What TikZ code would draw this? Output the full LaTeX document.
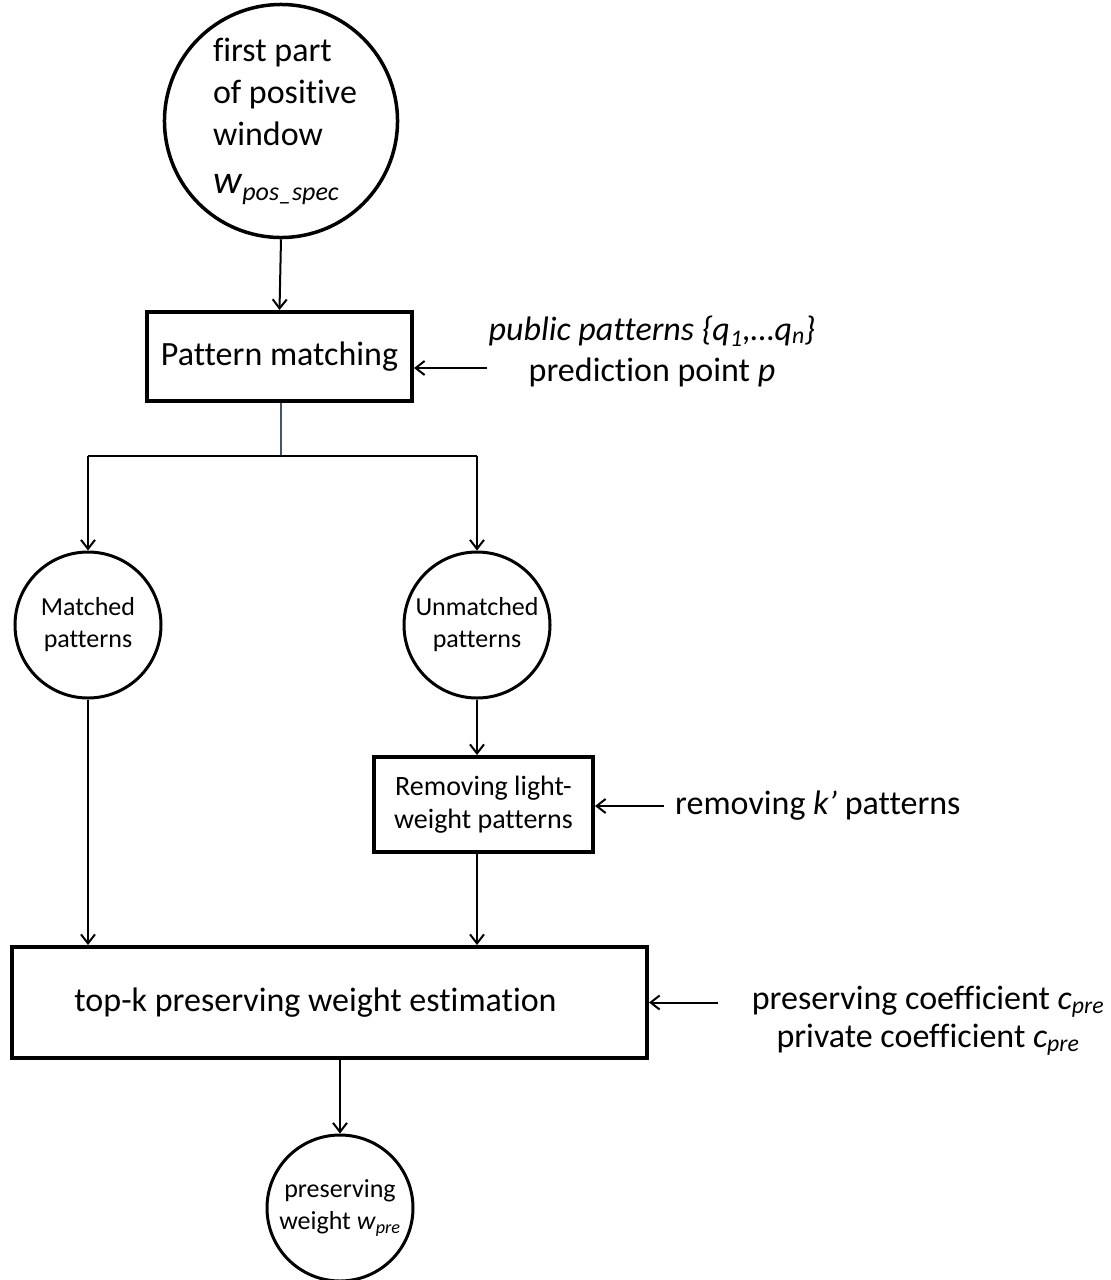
\documentclass[tikz,border=0pt]{standalone}
\usepackage{fontspec}
\setmainfont{Carlito}[Ligatures=NoCommon]
\usetikzlibrary{arrows.meta}
\definecolor{slate}{HTML}{44546A}
\newcommand{\ind}{\hspace*{14pt}}
\begin{document}
\begin{tikzpicture}[x=1pt,y=-1pt,
  every node/.style={font=\fontsize{34}{41}\selectfont, inner sep=0pt},
  circ/.style={draw, circle, line width=3.5pt},
  procbox/.style={draw, rectangle, line width=4pt},
  smalltext/.style={font=\fontsize{26}{32}\selectfont, align=center},
  conn/.style={line width=2pt, -{Straight Barb[length=9pt,width=14pt]}},
  plainline/.style={line width=2pt},
]
\useasboundingbox (0,0) rectangle (1111,1280);

% source window
\node[circ, minimum size=232, text width=164, align=flush left,
      font=\fontsize{34}{42}\selectfont] (src) at (281,121)
  {\ind first part\\\ind of positive\\\ind window\\[6pt]\ind{\fontsize{40}{40}\selectfont\textit{w}}\raisebox{-7pt}{\fontsize{26}{26}\selectfont\textit{pos\_spec}}};

% pattern matching stage
\node[procbox, minimum width=265, minimum height=89] (pm) at (279.5,356.5) {Pattern matching};
\node[align=center] (pin) at (652,351)
  {\textit{public patterns \{q\textsubscript{1},…q\textsubscript{n}\}}\\prediction point \textit{p}};
\coordinate (pinA) at (487,368);

% matched / unmatched
\coordinate (fork) at (281,456);
\node[circ, smalltext, minimum size=146, line width=3pt] (mat) at (88,625) {Matched\\patterns};
\node[circ, smalltext, minimum size=146, line width=3pt] (unm) at (477,625) {Unmatched\\patterns};

% removing light-weight patterns
\node[procbox, minimum width=219, minimum height=95, align=center,
      font=\fontsize{28}{33}\selectfont] (rem) at (483.5,804.5) {Removing light-\\weight patterns};
\node[anchor=west] (kin) at (675,806) {removing \textit{k’} patterns};

% weight estimation
\node[procbox, minimum width=635, minimum height=111] (est) at (329.5,1002.5)
  {\hspace*{-28pt}top-k preserving weight estimation};
\node[align=center, font=\fontsize{34}{38}\selectfont] (cin) at (928,1021)
  {preserving coefficient \textit{c}\textsubscript{\textit{pre}}\\private coefficient \textit{c}\textsubscript{\textit{pre}}};
\coordinate (cA) at (718,1002.5);

% result
\node[circ, smalltext, minimum size=146, line width=3pt] (res) at (340,1208)
  {preserving\\weight \textit{w}\textsubscript{\textit{pre}}};

% connectors
\draw[conn] (src.south) -- (pm.north);
\draw[conn] (pinA) -- (pinA -| pm.east);
\draw[plainline, draw=slate] (pm.south -| fork) -- (fork);
\draw[plainline] (mat.north |- fork) -- (unm.north |- fork);
\draw[conn] (mat.north |- fork) -- (mat.north);
\draw[conn] (unm.north |- fork) -- (unm.north);
\draw[conn] (unm.south) -- (unm.south |- rem.north);
\draw[conn, shorten <=11pt] (kin.west) -- (kin.west -| rem.east);
\draw[conn] (mat.south) -- (mat.south |- est.north);
\draw[conn] (rem.south -| unm.south) -- (est.north -| unm.south);
\draw[conn] (cA) -- (cA -| est.east);
\draw[conn] (est.south -| res.north) -- (res.north);
\end{tikzpicture}
\end{document}
